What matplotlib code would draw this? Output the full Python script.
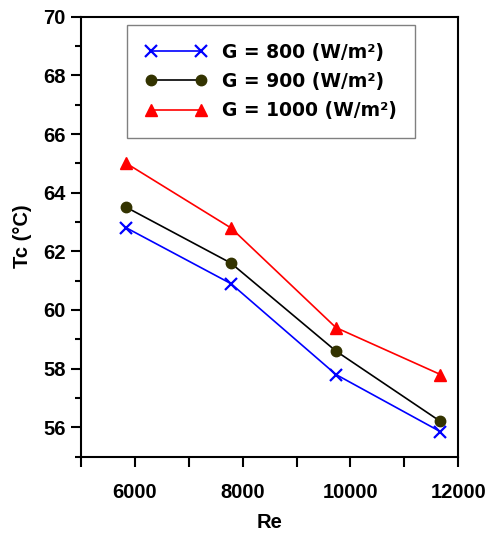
import matplotlib.pyplot as plt
from matplotlib.ticker import MultipleLocator, FixedLocator

re_vals = [5840, 7780, 9730, 11670]
tc_800 = [62.8, 60.9, 57.8, 55.85]
tc_900 = [63.5, 61.6, 58.6, 56.2]
tc_1000 = [65.0, 62.8, 59.4, 57.8]

fig = plt.figure(figsize=(4.89, 5.41), dpi=100)
ax = fig.add_axes([0.166, 0.156, 0.771, 0.813])

ax.plot(re_vals, tc_800, color='#0000FF', lw=1.2, marker='x', ms=9, mew=1.6,
        label="G = 800 (W/m²)")
ax.plot(re_vals, tc_900, color='black', lw=1.2, marker='o', ms=7.5,
        mfc='#333300', mec='#333300', label="G = 900 (W/m²)")
ax.plot(re_vals, tc_1000, color='#FF0000', lw=1.2, marker='^', ms=9,
        label="G = 1000 (W/m²)")

ax.set_xlim(5000, 12000)
ax.set_ylim(55, 70)
ax.xaxis.set_major_locator(FixedLocator([6000, 8000, 10000, 12000]))
ax.xaxis.set_minor_locator(FixedLocator([5000, 7000, 9000, 11000]))
ax.yaxis.set_major_locator(FixedLocator([56, 58, 60, 62, 64, 66, 68, 70]))
ax.yaxis.set_minor_locator(MultipleLocator(1))

ax.tick_params(axis='x', which='both', direction='out', length=7, width=1.5, pad=12)
ax.tick_params(axis='y', which='major', direction='out', length=7, width=1.5, pad=4)
ax.tick_params(axis='y', which='minor', direction='out', length=4, width=1.5)
for lab in ax.get_xticklabels() + ax.get_yticklabels():
    lab.set_fontfamily('Liberation Sans')
    lab.set_fontweight('bold')
    lab.set_fontsize(14.5)
for sp in ax.spines.values():
    sp.set_linewidth(1.5)

ax.set_xlabel("Re", fontsize=14.5, fontweight='bold', family='Liberation Sans', labelpad=8)
ax.set_ylabel("Tc (°C)", fontsize=14.5, fontweight='bold', family='Liberation Sans', labelpad=8)

leg = ax.legend(loc='upper left', bbox_to_anchor=(0.122, 0.982), borderaxespad=0,
                numpoints=2, handlelength=3.3, handletextpad=0.8,
                fancybox=False, framealpha=1, edgecolor='#808080',
                borderpad=0.95, labelspacing=0.55,
                prop={'family': 'DejaVu Sans', 'size': 13.5, 'weight': 'bold'})
leg.get_frame().set_linewidth(1.0)

fig.savefig("out.png", dpi=100)
